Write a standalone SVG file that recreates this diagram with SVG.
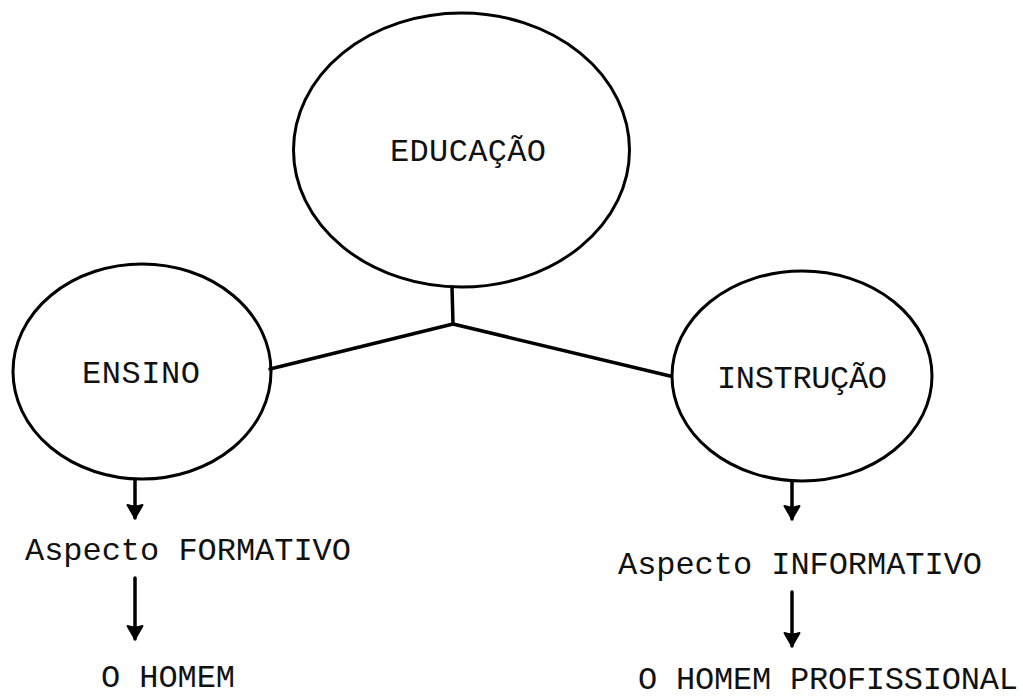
<svg xmlns="http://www.w3.org/2000/svg" width="1023" height="699" viewBox="0 0 1023 699">
<style>
.node ellipse{fill:none;stroke:#000;stroke-width:3}
text{font-family:"Liberation Mono","DejaVu Sans Mono",monospace;font-size:32px;fill:#111}
.conn line{stroke:#000;stroke-width:3.5;stroke-linecap:round}
.arrow{stroke:#000;stroke-width:4.5;stroke-linecap:round}
</style>
<defs>
<marker id="head" markerUnits="userSpaceOnUse" markerWidth="20" markerHeight="20" refX="15" refY="10" orient="auto" viewBox="0 0 20 20">
<path d="M2 2.5 Q8 6 15 10 Q8 14 2 17.5 Q5 10 2 2.5 Z" fill="#000" stroke="#000" stroke-width="2" stroke-linejoin="round"/>
</marker>
</defs>
<rect width="1023" height="699" fill="#fff"/>
<g id="educacao" class="node">
<ellipse cx="461.5" cy="150" rx="168" ry="137"/>
<text x="390" y="161" textLength="156" lengthAdjust="spacing">EDUCAÇÃO</text>
</g>
<g id="ensino" class="node">
<ellipse cx="142" cy="371.5" rx="129" ry="107.5"/>
<text x="82" y="383" textLength="118" lengthAdjust="spacing">ENSINO</text>
</g>
<g id="instrucao" class="node">
<ellipse cx="802" cy="376" rx="130" ry="105"/>
<text x="717" y="388" textLength="170" lengthAdjust="spacing">INSTRUÇÃO</text>
</g>
<g id="formativo">
<text x="25" y="560" textLength="326" lengthAdjust="spacing">Aspecto FORMATIVO</text>
</g>
<g id="informativo">
<text x="618" y="574" textLength="364" lengthAdjust="spacing">Aspecto INFORMATIVO</text>
</g>
<g id="homem">
<text x="101" y="687" textLength="134" lengthAdjust="spacing">O HOMEM</text>
</g>
<g id="homem-profissional">
<text x="638" y="689" textLength="380" lengthAdjust="spacing">O HOMEM PROFISSIONAL</text>
</g>
<g id="connectors" class="conn">
<line x1="452" y1="287" x2="453" y2="324"/>
<line x1="453" y1="324" x2="270" y2="369"/>
<line x1="453" y1="324" x2="670" y2="376"/>
<line class="arrow" x1="135" y1="480" x2="135" y2="518" marker-end="url(#head)"/>
<line class="arrow" x1="135" y1="578" x2="135" y2="639" marker-end="url(#head)"/>
<line class="arrow" x1="792" y1="481" x2="792" y2="519" marker-end="url(#head)"/>
<line class="arrow" x1="792" y1="592" x2="792" y2="646" marker-end="url(#head)"/>
</g>
</svg>
